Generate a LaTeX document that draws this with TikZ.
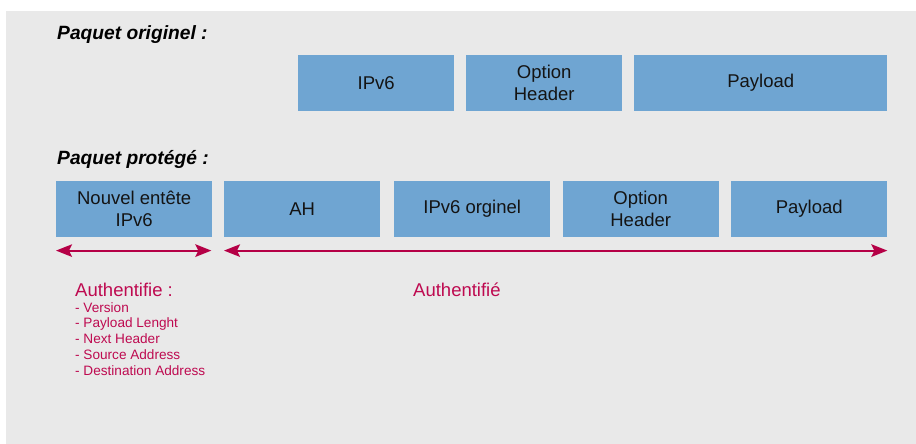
\documentclass[tikz,border=0pt]{standalone}
\usepackage{fontspec}
\setmainfont{Liberation Sans}
\usetikzlibrary{arrows.meta}
\definecolor{bg}{RGB}{233,233,233}
\definecolor{boxblue}{RGB}{111,165,210}
\definecolor{crim}{RGB}{181,0,70}
\definecolor{crimtext}{RGB}{190,10,80}
\definecolor{ink}{RGB}{20,20,20}
\tikzset{
  pbox/.style={rectangle, fill=boxblue, draw=none, inner sep=0pt, anchor=north west,
    minimum width=156pt, minimum height=55.7pt, text=ink, align=center,
    font=\fontsize{18.5}{21.7}\selectfont},
  ttl/.style={anchor=base west, inner sep=0pt, text=black,
    font=\fontsize{19.2}{21}\selectfont\bfseries\itshape},
  authbig/.style={anchor=base west, inner sep=0pt, text=crimtext,
    font=\fontsize{18.5}{21}\selectfont},
  authsmall/.style={anchor=base west, inner sep=0pt, text=crimtext,
    font=\fontsize{13.6}{15}\selectfont},
  arr/.style={draw=crim, line width=2pt,
    {Stealth[length=16pt, width=12.5pt, inset=3pt]}-{Stealth[length=16pt, width=12.5pt, inset=3pt]}}
}
\begin{document}
\begin{tikzpicture}[x=1pt, y=-1pt]
\useasboundingbox (0,0) rectangle (916,444);
\fill[white] (0,0) rectangle (916,444);
\fill[bg] (6,11) rectangle (916,444);

\node[ttl] (t1) at (57,40) {Paquet originel :};
\node[ttl] (t2) at (57,164) {Paquet protégé :};

\node[pbox] (o1) at (298,55) {IPv6};
\node[pbox] (o2) at (466,55) {Option\\Header};
\node[pbox, minimum width=253pt] (o3) at (634,55) {Payload};

\node[pbox] (p1) at (56,181) {Nouvel entête\\IPv6};
\node[pbox] (p2) at (224,181) {AH};
\node[pbox] (p3) at (394,181) {IPv6 orginel};
\node[pbox] (p4) at (562.5,181) {Option\\Header};
\node[pbox] (p5) at (731,181) {Payload};

\coordinate (a1) at ([yshift=-13.5pt]p1.south west);
\coordinate (a2) at ([yshift=-13.5pt,xshift=-1pt]p1.south east);
\coordinate (b1) at ([yshift=-13.5pt]p2.south west);
\coordinate (b2) at ([yshift=-13.5pt]p5.south east);
\draw[arr] (a1) -- (a2);
\draw[arr] (b1) -- (b2);

\node[authbig] (l0) at (75,296.5) {Authentifie :};
\node[authsmall] (l1) at (75,312) {- Version};
\node[authsmall] (l2) at (75,327.8) {- Payload Lenght};
\node[authsmall] (l3) at (75,343.6) {- Next Header};
\node[authsmall] (l4) at (75,359.4) {- Source Address};
\node[authsmall] (l5) at (75,375.2) {- Destination Address};

\node[authbig] (r0) at (413,296) {Authentifié};
\end{tikzpicture}
\end{document}
